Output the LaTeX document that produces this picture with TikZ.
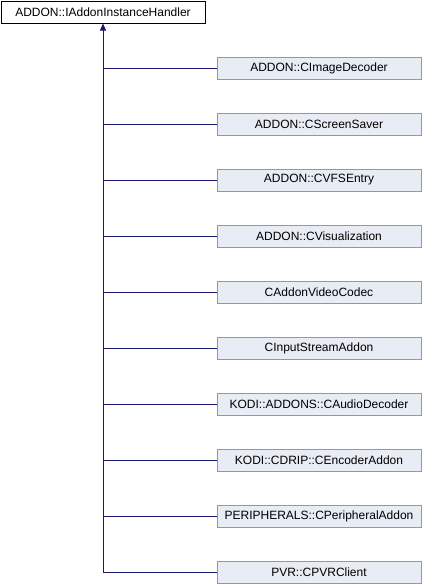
\documentclass[tikz,border=0pt]{standalone}
\usepackage{fontspec}
\setmainfont{Liberation Sans}
\usetikzlibrary{arrows.meta,positioning}
\definecolor{edgeblue}{RGB}{25,25,112}
\definecolor{boxfill}{RGB}{232,236,245}
\definecolor{boxline}{RGB}{132,151,201}

\begin{document}
\begin{tikzpicture}[x=1pt, y=-1pt,
    base/.style={draw=black, fill=white, line width=1pt, minimum width=204pt, minimum height=22pt, inner sep=0pt, font=\fontsize{12pt}{14pt}\selectfont},
    derived/.style={draw=boxline, fill=boxfill, line width=1pt, minimum width=204pt, minimum height=22pt, inner sep=0pt, font=\fontsize{12pt}{14pt}\selectfont},
    link/.style={draw=edgeblue, line width=1pt}
]
    \useasboundingbox (0,0) rectangle (424,584);

    % Base class (top)
    \node[base] (handler) at (103,12) {ADDON::IAddonInstanceHandler};

    % Derived classes (right column)
    \node[derived] (imagedec) at (319,68) {ADDON::CImageDecoder};
    \node[derived] (screensaver) at (319,124) {ADDON::CScreenSaver};
    \node[derived] (vfsentry) at (319,180) {ADDON::CVFSEntry};
    \node[derived] (visual) at (319,236) {ADDON::CVisualization};
    \node[derived] (videocodec) at (319,292) {CAddonVideoCodec};
    \node[derived] (inputstream) at (319,348) {CInputStreamAddon};
    \node[derived] (audiodec) at (319,404) {KODI::ADDONS::CAudioDecoder};
    \node[derived] (encoder) at (319,460) {KODI::CDRIP::CEncoderAddon};
    \node[derived] (peripheral) at (319,516) {PERIPHERALS::CPeripheralAddon};
    \node[derived] (pvrclient) at (319,572) {PVR::CPVRClient};

    % Trunk with arrow up to the base class
    \coordinate (trunk) at (handler.south |- pvrclient.west);
    \draw[link, -{Triangle[length=7pt, width=6pt]}] (trunk) -- (handler.south);

    % Branches to each derived class
    \foreach \cls in {imagedec,screensaver,vfsentry,visual,videocodec,inputstream,audiodec,encoder,peripheral,pvrclient} {
        \draw[link] (\cls.west) -- (\cls.west -| trunk);
    }

\end{tikzpicture}
\end{document}
